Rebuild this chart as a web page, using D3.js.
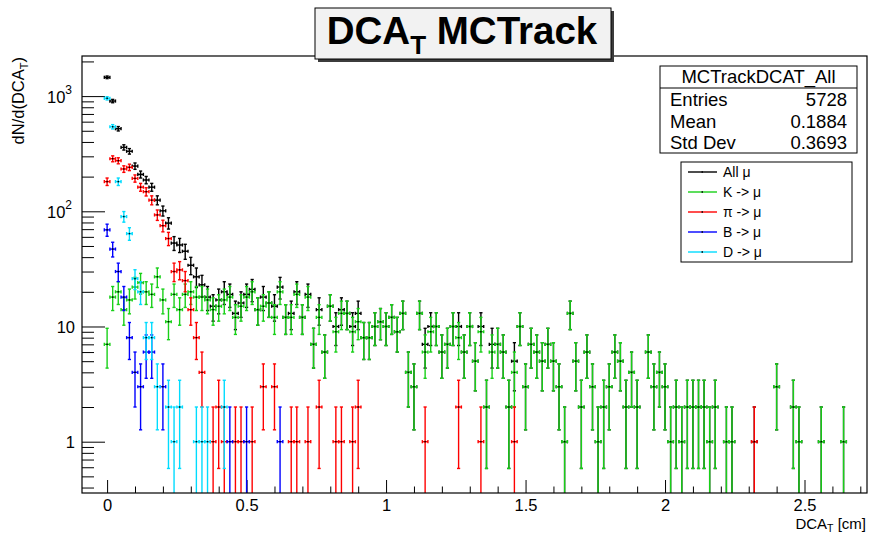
<!DOCTYPE html>
<html>
<head>
<meta charset="utf-8">
<script src="https://cdn.jsdelivr.net/npm/d3@7"></script>
<style>
  body { margin: 0; background: #fff; }
  text { font-family: "Liberation Sans", Arial, sans-serif; white-space: pre; }
</style>
</head>
<body>
<div id="chart"></div>
<script>
// bin width of the DCA_T histograms, bin i is centred on i * binWidth
const binWidth = 0.02;

// counts per bin (bins 0, 1, 2 ...)
const allMu = [
  1456, 906, 521, 359, 332, 247, 209, 187, 162, 125,
  101, 79, 53, 51, 45, 34, 27, 23, 18, 15,
  17, 20, 19, 13, 16, 19, 21, 14, 18, 16,
  15, 22, 12, 13, 20, 12, 19, 7, 14, 6,
  15, 10, 14, 13, 10, 13, 8, 8, 10, 11,
  10, 12, 9, 13, 4, 3, 13, 7, 10, 10,
  6, 7, 10, 10, 6, 10, 5, 10, 2, 7,
  7, 6, 2, 5, 10, 3, 7, 6, 5, 7,
  5, 3, 1, 13, 5, 2, 6, 3, 1, 2,
  3, 6, 5, 2, 4, 2, 0, 6, 3, 4,
  3, 1, 2, 1, 2, 2, 2, 2, 1, 2,
  0, 1, 1, 0, 0, 0, 1, 0, 0, 0,
  3, 0, 0, 2, 1, 0, 0, 0, 1, 0,
  0, 0, 1
];
const kMu = [
  7, 18, 20, 14, 17, 22, 24, 20, 19, 27,
  17, 11, 19, 14, 19, 20, 18, 18, 17, 14,
  15, 17, 18, 12, 15, 18, 20, 14, 15, 16,
  12, 20, 12, 12, 19, 12, 18, 7, 12, 6,
  15, 9, 13, 13, 9, 11, 8, 8, 10, 11,
  10, 12, 9, 13, 4, 3, 13, 6, 9, 10,
  6, 7, 10, 8, 6, 10, 5, 9, 2, 6,
  7, 6, 2, 4, 10, 3, 7, 6, 5, 7,
  5, 3, 1, 13, 5, 2, 6, 3, 1, 2,
  3, 6, 5, 2, 4, 2, 0, 6, 3, 4,
  3, 1, 2, 1, 2, 2, 2, 2, 1, 2,
  0, 1, 1, 0, 0, 0, 0, 0, 0, 0,
  3, 0, 0, 2, 1, 0, 0, 0, 1, 0,
  0, 0, 1
];
const piMu = [
  181, 286, 275, 233, 241, 193, 162, 148, 125, 93,
  75, 58, 30, 31, 25, 14, 8, 4, 0, 1,
  2, 1, 0, 1, 1, 0, 1, 0, 3, 0,
  3, 0, 0, 1, 1, 0, 1, 0, 2, 0,
  0, 1, 1, 0, 1, 2, 0, 0, 0, 0,
  0, 0, 0, 0, 0, 0, 0, 1, 0, 0,
  0, 0, 0, 2, 0, 0, 0, 1, 0, 0,
  0, 0, 0, 1, 0, 0, 0, 0, 0, 0,
  0, 0, 0, 0, 0, 0, 0, 0, 0, 0,
  0, 0, 0, 0, 0, 0, 0, 0, 0, 0,
  0, 0, 0, 0, 0, 0, 0, 0, 0, 0,
  0, 0, 0, 0, 0, 0, 1
];
const bMu = [
  69, 47, 30, 18, 8, 4, 3, 6, 6, 0,
  3, 0, 0, 0, 0, 0, 0, 0, 0, 0,
  0, 0, 1, 0, 0, 1, 0, 0, 0, 0,
  0, 1
];
const dMu = [
  957, 542, 181, 90, 64, 26, 20, 8, 8, 3,
  0, 2, 1, 2, 0, 0, 1, 1, 1, 0,
  0, 2
];

const seriesNames = ["All \u03bc", "K -> \u03bc", "\u03c0 -> \u03bc", "B -> \u03bc", "D -> \u03bc"];
const xTickValues = [0, 0.5, 1, 1.5, 2, 2.5];
const xTickLabels = ["0", "0.5", "1", "1.5", "2", "2.5"];
const yTickValues = [1, 10, 100, 1000];
const yTickLabels = [["1", ""], ["10", ""], ["10", "2"], ["10", "3"]];
const statsTitle = "MCTrackDCAT_All";
const statsNames = ["Entries", "Mean", "Std Dev"];
const statsValues = ["5728", "0.1884", "0.3693"];

const width = 869, height = 533;
const frame = { left: 82, right: 867, top: 56, bottom: 493 };

const svg = d3.select("#chart").append("svg")
  .attr("width", width)
  .attr("height", height);

const x = d3.scaleLinear().domain([-0.09, 2.724]).range([frame.left, frame.right]);
const y = d3.scaleLog().domain([0.3586, 2229]).range([frame.bottom, frame.top]);

// clip for the error bars
svg.append("clipPath").attr("id", "frame-clip")
  .append("rect")
  .attr("x", frame.left).attr("y", frame.top)
  .attr("width", frame.right - frame.left)
  .attr("height", frame.bottom - frame.top);

// axes, ticks pointing into the frame like ROOT does
const xMinor = d3.range(0, 2.71, 0.1).filter(v => Math.abs(v * 2 - Math.round(v * 2)) > 1e-6);
svg.append("g")
  .attr("transform", `translate(0,${frame.bottom})`)
  .call(d3.axisBottom(x).tickValues(xMinor).tickSize(-6.5).tickFormat(""))
  .call(g => g.select(".domain").remove());

svg.append("g")
  .attr("class", "x-axis")
  .attr("transform", `translate(0,${frame.bottom})`)
  .call(d3.axisBottom(x).tickValues(xTickValues).tickSize(-13).tickPadding(6)
    .tickFormat((d, i) => xTickLabels[i]))
  .call(g => g.select(".domain").remove());

const yMinor = y.ticks().filter(v => !yTickValues.includes(v));
svg.append("g")
  .attr("transform", `translate(${frame.left},0)`)
  .call(d3.axisLeft(y).tickValues(yMinor).tickSize(-12).tickFormat(""))
  .call(g => g.select(".domain").remove());

const yAxis = svg.append("g")
  .attr("class", "y-axis")
  .attr("transform", `translate(${frame.left},0)`)
  .call(d3.axisLeft(y).tickValues(yTickValues).tickSize(-23).tickPadding(7).tickFormat(""))
  .call(g => g.select(".domain").remove());

yAxis.selectAll(".tick text").each(function (d, i) {
  const t = d3.select(this).attr("dy", "0.38em");
  const [base, sup] = yTickLabels[i];
  t.append("tspan").text(base);
  if (sup) {
    t.append("tspan").attr("font-size", 12).attr("dy", "-0.75em").text(sup);
  }
  // right align the whole label
  t.attr("x", sup ? -10 : -7);
});

svg.selectAll(".tick line").attr("stroke", "#000").attr("stroke-width", 1);
svg.selectAll(".tick text").attr("font-size", 16.5).attr("fill", "#000")
  .attr("font-family", "Liberation Sans, Arial, sans-serif");

// histograms with error bars
const colors = ["#000000", "#18d018", "#ff0000", "#0000ff", "#00dcff"];
const allSeries = [allMu, kMu, piMu, bMu, dMu];
const plot = svg.append("g").attr("clip-path", "url(#frame-clip)");
const cap = 1.6;

allSeries.forEach((counts, si) => {
  const pts = counts
    .map((n, i) => ({ c: i * binWidth, n: n }))
    .filter(d => d.n > 0)
    .map(d => {
      const e = Math.sqrt(d.n);
      return {
        cx: x(d.c),
        cy: y(d.n),
        x0: x(d.c - binWidth / 2),
        x1: x(d.c + binWidth / 2),
        yTop: y(d.n + e),
        yBot: d.n - e > 0 ? y(d.n - e) : frame.bottom + 5
      };
    });

  const g = plot.append("g")
    .attr("stroke", colors[si])
    .attr("stroke-width", 1.4)
    .attr("fill", "none");

  g.selectAll(".vbar").data(pts).join("line")
    .attr("x1", d => d.cx).attr("x2", d => d.cx)
    .attr("y1", d => d.yTop).attr("y2", d => d.yBot);

  g.selectAll(".hbar").data(pts).join("line")
    .attr("x1", d => d.x0).attr("x2", d => d.x1)
    .attr("y1", d => d.cy).attr("y2", d => d.cy);

  // end caps
  g.selectAll(".capTop").data(pts).join("line")
    .attr("x1", d => d.cx - cap).attr("x2", d => d.cx + cap)
    .attr("y1", d => d.yTop).attr("y2", d => d.yTop);
  g.selectAll(".capBot").data(pts).join("line")
    .attr("x1", d => d.cx - cap).attr("x2", d => d.cx + cap)
    .attr("y1", d => d.yBot).attr("y2", d => d.yBot);
  g.selectAll(".capL").data(pts).join("line")
    .attr("x1", d => d.x0).attr("x2", d => d.x0)
    .attr("y1", d => d.cy - cap).attr("y2", d => d.cy + cap);
  g.selectAll(".capR").data(pts).join("line")
    .attr("x1", d => d.x1).attr("x2", d => d.x1)
    .attr("y1", d => d.cy - cap).attr("y2", d => d.cy + cap);

  // dot markers
  plot.append("g").selectAll("rect").data(pts).join("rect")
    .attr("x", d => d.cx - 0.75).attr("y", d => d.cy - 0.75)
    .attr("width", 1.5).attr("height", 1.5)
    .attr("fill", "#000");
});

// frame
svg.append("rect")
  .attr("x", frame.left).attr("y", frame.top)
  .attr("width", frame.right - frame.left)
  .attr("height", frame.bottom - frame.top)
  .attr("fill", "none").attr("stroke", "#000").attr("stroke-width", 1.2);

// axis titles
const xTitle = svg.append("text")
  .attr("x", 866).attr("y", 529)
  .attr("text-anchor", "end")
  .attr("font-size", 15);
xTitle.append("tspan").text("DCA");
xTitle.append("tspan").attr("font-size", 10.5).attr("dy", 3).text("T");
xTitle.append("tspan").attr("dy", -3).text(" [cm]");

const yTitle = svg.append("text")
  .attr("transform", "translate(24,57) rotate(-90)")
  .attr("text-anchor", "end")
  .attr("font-size", 16.5);
yTitle.append("tspan").text("dN/d(DCA");
yTitle.append("tspan").attr("font-size", 11).attr("dy", 4).text("T");
yTitle.append("tspan").attr("dy", -4).text(")");

// title box with shadow
svg.append("rect").attr("x", 318).attr("y", 11).attr("width", 296).attr("height", 51)
  .attr("fill", "#3c3c3c");
svg.append("rect").attr("x", 315).attr("y", 8).attr("width", 296).attr("height", 51)
  .attr("fill", "#f2f2f2").attr("stroke", "#000").attr("stroke-width", 1);
const title = svg.append("text")
  .attr("x", 462).attr("y", 44)
  .attr("text-anchor", "middle")
  .attr("font-size", 38.5).attr("font-weight", "bold");
title.append("tspan").text("DCA");
title.append("tspan").attr("font-size", 26).attr("dy", 10).text("T");
title.append("tspan").attr("dy", -10).text(" MCTrack");

// stats box
const stats = svg.append("g");
stats.append("rect").attr("x", 660).attr("y", 66).attr("width", 197).attr("height", 87)
  .attr("fill", "#fff").attr("stroke", "#000").attr("stroke-width", 1);
stats.append("line").attr("x1", 660).attr("x2", 857).attr("y1", 88).attr("y2", 88)
  .attr("stroke", "#000");
stats.append("text").attr("x", 758.5).attr("y", 83).attr("text-anchor", "middle")
  .attr("font-size", 18.5).text(statsTitle);
statsNames.forEach((name, i) => {
  const yy = 106 + i * 21.5;
  stats.append("text").attr("x", 670).attr("y", yy).attr("font-size", 18.5).text(name);
  stats.append("text").attr("x", 847).attr("y", yy).attr("text-anchor", "end")
    .attr("font-size", 18.5).text(statsValues[i]);
});

// legend
const legend = svg.append("g");
legend.append("rect").attr("x", 681).attr("y", 162).attr("width", 171).attr("height", 100)
  .attr("fill", "#fff").attr("stroke", "#000").attr("stroke-width", 1);
seriesNames.forEach((name, i) => {
  const yy = 172 + i * 20;
  legend.append("line").attr("x1", 688).attr("x2", 717).attr("y1", yy).attr("y2", yy)
    .attr("stroke", colors[i]).attr("stroke-width", 1.4);
  legend.append("rect").attr("x", 701.5).attr("y", yy - 0.75).attr("width", 1.5).attr("height", 1.5)
    .attr("fill", "#000");
  legend.append("text").attr("x", 723).attr("y", yy + 5).attr("font-size", 14).text(name);
});
</script>
</body>
</html>
